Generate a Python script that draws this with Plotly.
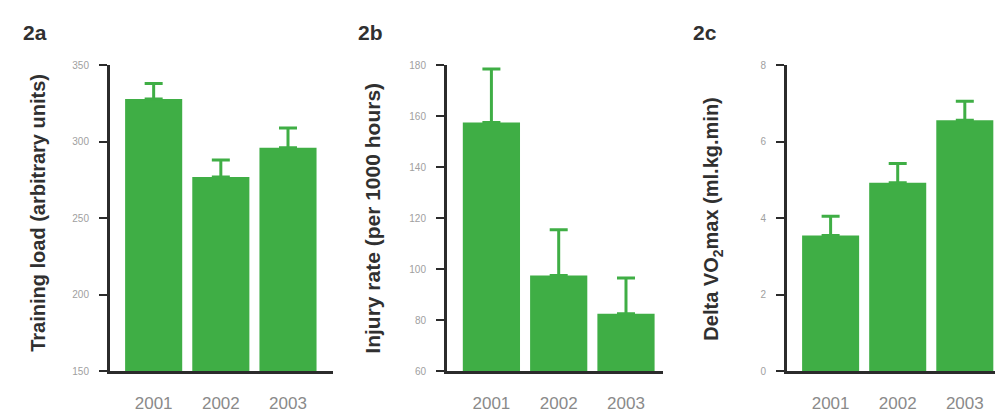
import plotly.graph_objects as go

years = ["2001", "2002", "2003"]
load_mean = [328, 277, 296]
load_err = [10, 11, 13]
injury_mean = [157.5, 97.5, 82.5]
injury_err = [21, 18, 14]
vo2_mean = [3.55, 4.93, 6.56]
vo2_err = [0.5, 0.5, 0.5]

W, H = 995, 416
GREEN = "#3fae45"
AXC = "#2b2b2b"

def px(x):
    return x / W

def py(y):
    return 1 - y / H

fig = go.Figure()

panels = [
    dict(mean=load_mean, err=load_err, cap=9, x0=110, x1=333, rng=[150, 350], dt=50,
         xr=[-0.65, 2.67], title="Training load (arbitrary units)", tx=38, ty=213, ts=20,
         lab="2a", lx=35),
    dict(mean=injury_mean, err=injury_err, cap=9, x0=447, x1=663, rng=[60, 180], dt=20,
         xr=[-0.66, 2.55], title="Injury rate (per 1000 hours)", tx=373, ty=219, ts=21,
         lab="2b", lx=370),
    dict(mean=vo2_mean, err=vo2_err, cap=9, x0=787, x1=995, rng=[0, 8], dt=2,
         xr=[-0.65, 2.45], title="Delta VO<sub>2</sub>max (ml.kg.min)", tx=713, ty=220, ts=20,
         lab="2c", lx=705),
]

for i, p in enumerate(panels):
    n = i + 1
    xa = "x" if n == 1 else f"x{n}"
    ya = "y" if n == 1 else f"y{n}"
    fig.add_trace(go.Bar(
        x=years, y=p["mean"], xaxis=xa, yaxis=ya, width=0.85,
        marker=dict(color=GREEN, line=dict(width=0)),
        error_y=dict(type="data", symmetric=False, array=p["err"],
                     arrayminus=[0] * 3, color=GREEN, thickness=3, width=p["cap"]),
        showlegend=False,
    ))
    xk = "xaxis" if n == 1 else f"xaxis{n}"
    yk = "yaxis" if n == 1 else f"yaxis{n}"
    fig.layout[xk] = dict(
        domain=[px(p["x0"]), px(p["x1"])], anchor=ya, type="category",
        range=p["xr"], showline=True, linecolor=AXC, linewidth=3,
        ticks="", showgrid=False, zeroline=False, ticklabelstandoff=14,
        tickfont=dict(family="Liberation Sans, Arial", size=17, color="#8a8a8a"),
    )
    fig.layout[yk] = dict(
        domain=[py(376), py(61)], anchor=xa, range=p["rng"], dtick=p["dt"],
        showline=True, linecolor=AXC, linewidth=3, ticks="outside",
        ticklen=8, tickwidth=2, tickcolor=AXC, showgrid=False, zeroline=False,
        ticklabelstandoff=8,
        tickfont=dict(family="Liberation Sans, Arial", size=10, color="#a0a0a0"),
    )
    fig.add_annotation(
        text=p["title"], xref="paper", yref="paper", x=px(p["tx"]), y=py(p["ty"]),
        textangle=-90, showarrow=False, xanchor="center", yanchor="middle",
        font=dict(family="Liberation Sans, Arial", size=p["ts"], color="#303030", weight="bold"),
    )
    fig.add_annotation(
        text="<b>" + p["lab"] + "</b>", xref="paper", yref="paper", x=px(p["lx"]), y=py(27),
        showarrow=False, xanchor="center", yanchor="middle",
        font=dict(family="Liberation Sans, Arial", size=21, color="#303030"),
    )

fig.update_layout(
    width=W, height=H, margin=dict(l=0, r=0, t=0, b=0),
    paper_bgcolor="white", plot_bgcolor="white", bargap=0.15,
)

fig.write_html("out.html")
